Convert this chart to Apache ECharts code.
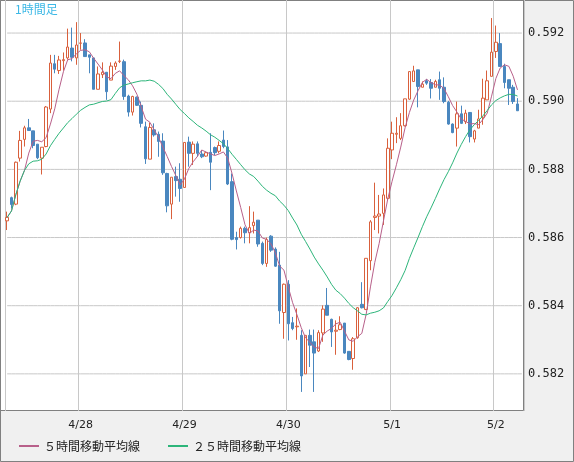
<!DOCTYPE html>
<html><head><meta charset="utf-8">
<script src="https://cdn.jsdelivr.net/npm/echarts@6/dist/echarts.min.js"></script>
<style>html,body{margin:0;padding:0;background:#f0f0f0}#c{width:574px;height:462px}</style>
</head><body><div id="c"></div>
<script>
// prices in units of 0.00001 (e.g. 58649 = 0.58649), hourly candles from 4/27 07:00
const openPts  = [58649,58717,58698,58833,58888,58922,58913,58874,58833,58867,58977,59110,59090,59119,59127,59156,59127,59170,59171,59136,59127,59035,59078,59085,59062,59102,59117,59116,59015,58968,59012,58988,58925,58830,58916,58903,58883,58788,58698,58779,58771,58747,58880,58847,58875,58845,58839,58850,58864,58853,58886,58866,58764,58600,58600,58627,58614,58635,58651,58583,58524,58604,58566,58519,58380,58463,58350,58338,58313,58200,58313,58294,58267,58320,58401,58360,58325,58330,58349,58266,58245,58306,58404,58389,58532,58659,58663,58671,58715,58857,58903,58891,58928,59006,59058,59092,59041,59060,59055,59041,59063,59041,58997,58933,58921,58963,58940,58967,58889,58921,58953,59004,59073,59146,59169,59102,59063,59041,58992];
const closePts = [58659,58697,58821,58885,58922,58914,58870,58834,58865,58983,59112,59094,59121,59122,59159,59129,59165,59171,59131,59129,59035,59080,59085,59028,59103,59112,59118,59014,58968,59014,58988,58935,58831,58923,58901,58882,58790,58693,58777,58767,58744,58879,58847,58874,58847,58837,58849,58821,58849,58870,58867,58757,58595,58594,58627,58614,58629,58645,58581,58524,58594,58563,58516,58385,58463,58347,58333,58340,58194,58313,58284,58261,58321,58390,58372,58323,58328,58344,58261,58242,58303,58394,58394,58539,58646,58663,58669,58725,58862,58906,58906,58928,59007,59087,59089,59043,59050,59053,59038,59058,59038,58999,58933,58908,58963,58935,58965,58896,58913,58948,59009,59060,59144,59173,59102,59055,59038,58999,58972];
const lowPts   = [58622,58685,58695,58823,58867,58914,58862,58830,58785,58865,58965,59082,59080,59090,59122,59117,59107,59151,59131,59082,59035,59035,59068,59004,59062,59092,59112,59004,58955,58958,58986,58923,58816,58830,58896,58837,58784,58674,58654,58720,58705,58747,58808,58813,58837,58833,58837,58739,58842,58847,58862,58754,58592,58565,58597,58583,58583,58612,58573,58519,58514,58558,58514,58347,58303,58298,58328,58300,58147,58200,58220,58147,58264,58294,58372,58279,58256,58328,58259,58240,58212,58303,58392,58387,58504,58622,58612,58637,58710,58830,58877,58886,58926,59004,59058,58982,59041,59048,59008,59041,59004,58994,58931,58906,58867,58933,58933,58879,58879,58921,58931,59004,59073,59127,59102,59038,58989,58992,58972];
const highPts  = [58676,58720,58823,58913,58928,58948,58913,58874,58865,58986,59136,59136,59133,59143,59213,59216,59232,59200,59182,59136,59127,59102,59114,59085,59114,59117,59175,59122,59019,59016,59014,58999,58940,58937,58935,58911,58906,58790,58777,58808,58818,58879,58896,58882,58882,58857,58852,58906,58867,58882,58914,58886,58788,58617,58632,58632,58692,58676,58651,58588,58600,58607,58571,58558,58465,58475,58367,58392,58328,58313,58330,58330,58328,58401,58452,58362,58357,58369,58349,58266,58308,58396,58469,58539,58651,58761,58725,58744,58891,58940,58953,58965,59007,59087,59104,59092,59058,59065,59065,59063,59087,59070,59001,58935,58999,58987,58975,58967,58916,58975,59066,59090,59244,59222,59200,59110,59063,59048,59009];
const yTicks = [0.582, 0.584, 0.586, 0.588, 0.590, 0.592];
const dayLabels = {17:'4/28', 41:'4/29', 65:'4/30', 89:'5/1', 113:'5/2'};
const seriesNames = ['５時間移動平均線', '２５時間移動平均線'];
const title = '1時間足';

const N = openPts.length;
const cats = [];
for (let i = 0; i <= N; i++) cats.push(String(i));
const P = v => +(v / 1e5).toFixed(5);
const ohlc = openPts.map((o, i) => [P(o), P(closePts[i]), P(lowPts[i]), P(highPts[i])]);
function ma(n) {
  return closePts.map((c, i) => {
    const s = Math.max(0, i - n + 1); let t = 0;
    for (let k = s; k <= i; k++) t += closePts[k];
    return +(t / (i - s + 1) / 1e5).toFixed(6);
  });
}
const isGrid = i => i === 0 || dayLabels[i] !== undefined;
const hSeries = yTicks.map(v => ({
  type:'line', silent:true, z:1, showSymbol:false, legendHoverLink:false,
  data: cats.map(() => v), lineStyle:{color:'#c8c8c8', width:1}, itemStyle:{color:'#c8c8c8'},
  tooltip:{show:false}
}));
const chart = echarts.init(document.getElementById('c'));
chart.setOption({
  animation: false,
  backgroundColor: '#f0f0f0',
  graphic: [
    {type:'rect', z:-10, shape:{x:0.5,y:0.5,width:523,height:410}, style:{fill:'#fff', stroke:'#808080', lineWidth:1}},
    {type:'rect', z:-10, shape:{x:0.5,y:0.5,width:573,height:461}, style:{fill:null, stroke:'#808080', lineWidth:1}},
    {type:'text', left:15, top:3, z:10, style:{text:title, fill:'#3cb8e6', font:'12px "Noto Sans CJK JP"'}}
  ],
  grid: {left:5, right:50, top:0, bottom:51},
  legend: {
    left: 14, bottom: 5, itemWidth: 20, itemHeight: 2, itemGap: 28, icon: 'rect',
    textStyle: {fontFamily:'"Noto Sans CJK JP"', fontSize:12, color:'#222'},
    data: seriesNames
  },
  xAxis: {
    type:'category', data:cats, boundaryGap:true,
    axisLine:{show:false}, axisTick:{show:false},
    axisLabel:{interval:(i)=>isGrid(i), formatter:(v,i)=>dayLabels[i]||'', color:'#222', fontFamily:'DejaVu Sans', fontSize:11, margin:9},
    splitLine:{show:true, interval:(i)=>isGrid(i), lineStyle:{color:'#c8c8c8', width:1}}
  },
  yAxis: {
    type:'value', position:'right', min:0.58091, max:0.59297, scale:true,
    axisLine:{show:false}, axisTick:{show:false}, splitLine:{show:false},
    axisLabel:{customValues:yTicks, formatter:v=>v.toFixed(3), color:'#222', fontFamily:'DejaVu Sans Mono', fontSize:12, margin:4}
  },
  series: hSeries.concat([
    {
      type:'candlestick', data:ohlc, barWidth:3, z:3,
      itemStyle:{color:'#ffffff', color0:'#4a87bf', borderColor:'#d9603c', borderColor0:'#4a87bf', borderWidth:1}
    },
    {name:seriesNames[0], type:'line', data:ma(5), showSymbol:false, z:4,
      lineStyle:{color:'#b8608a', width:1}, itemStyle:{color:'#b8608a'}},
    {name:seriesNames[1], type:'line', data:ma(25), showSymbol:false, z:4,
      lineStyle:{color:'#2db57a', width:1}, itemStyle:{color:'#2db57a'}}
  ])
});
</script></body></html>
